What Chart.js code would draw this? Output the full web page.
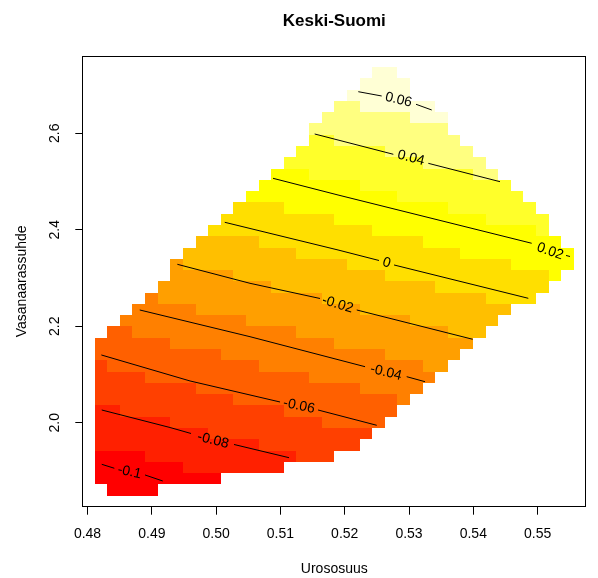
<!DOCTYPE html>
<html>
<head>
<meta charset="utf-8">
<title>Keski-Suomi</title>
<script src="https://cdn.jsdelivr.net/npm/chart.js@4.4.1/dist/chart.umd.min.js"></script>
<style>
  html, body { margin: 0; padding: 0; background: #fff; }
  #wrap { width: 598px; height: 578px; }
</style>
</head>
<body>
<div id="wrap"><canvas id="surface" width="598" height="578"></canvas></div>
<script>
// interpolation grid: 38 x 38 cells, first and last cell centre on each axis
const gridX = [0.48209, 0.55467];
const gridY = [1.8604, 2.7257];
const nCols = 38;
const nRows = 38;

// heat.colors(12)
const heatColors = ['#FF0000', '#FF2000', '#FF4000', '#FF6000', '#FF8000', '#FF9F00',
                    '#FFBF00', '#FFDF00', '#FFFF00', '#FFFF2A', '#FFFF80', '#FFFFD5'];

// per grid row (bottom to top): first filled column, then runs of [colour band, cell count]
const rowStart = [1, 0, 0, 0, 0, 0, 0, 0, 0, 0, 0, 0, 0, 0, 1, 2, 3, 4, 5, 6,
                  6, 7, 8, 9, 10, 11, 12, 13, 14, 15, 16, 17, 17, 18, 19, 20, 21, 22];
const rowRuns = [
  [0, 4],
  [0, 10],
  [0, 7, 1, 8],
  [0, 4, 1, 12, 2, 3],
  [1, 13, 2, 8],
  [1, 9, 2, 13],
  [1, 6, 2, 12, 3, 5],
  [1, 2, 2, 13, 3, 9],
  [2, 11, 3, 13, 4, 1],
  [2, 8, 3, 13, 4, 5],
  [2, 4, 3, 13, 4, 10],
  [2, 1, 3, 12, 4, 13, 5, 2],
  [3, 10, 4, 13, 5, 6],
  [3, 6, 4, 13, 5, 11],
  [3, 2, 4, 13, 5, 12, 6, 3],
  [4, 10, 5, 13, 6, 7],
  [4, 5, 5, 13, 6, 12],
  [4, 1, 5, 13, 6, 13, 7, 4],
  [5, 9, 6, 13, 7, 9],
  [5, 5, 6, 12, 7, 13, 8, 1],
  [5, 1, 6, 13, 7, 13, 8, 5],
  [6, 9, 7, 13, 8, 9],
  [6, 5, 7, 13, 8, 11],
  [7, 13, 8, 13, 9, 1],
  [7, 9, 8, 12, 9, 5],
  [7, 4, 8, 13, 9, 7],
  [8, 12, 9, 10],
  [8, 8, 9, 12],
  [8, 3, 9, 13, 10, 2],
  [9, 11, 10, 5],
  [9, 7, 10, 7],
  [9, 2, 10, 10],
  [10, 11],
  [10, 7, 11, 3],
  [10, 2, 11, 6],
  [11, 5],
  [11, 4],
  [11, 2]
];

// contour lines; null marks the break left for the label
const contourLevels = [-0.1, -0.08, -0.06, -0.04, -0.02, 0, 0.02, 0.04, 0.06];
const contourX = [
  [0.48221, 0.48417, null, 0.48894, 0.49170],
  [0.48221, 0.49283, 0.49610, null, 0.50278, 0.51134],
  [0.48215, 0.49594, 0.50994, null, 0.51585, 0.52498],
  [0.48812, 0.50527, 0.52316, null, 0.52964, 0.53249],
  [0.49397, 0.50527, 0.51616, null, 0.52187, 0.53991],
  [0.50134, 0.51896, 0.52533, null, 0.52767, 0.54855],
  [0.50885, 0.51896, 0.54908, null, 0.55442, 0.55504],
  [0.51533, 0.52756, null, 0.53300, 0.54415],
  [0.52211, 0.52575, null, 0.53109, 0.53353]
];
const contourY = [
  [1.9137, 1.9055, null, 1.8916, 1.8791],
  [2.0263, 1.9900, 1.9776, null, 1.9548, 1.9274],
  [2.1404, 2.0865, 2.0429, null, 2.0263, 1.9946],
  [2.2337, 2.1783, 2.1161, null, 2.0954, 2.0850],
  [2.3284, 2.2890, 2.2575, null, 2.2337, 2.1729],
  [2.4155, 2.3581, 2.3363, null, 2.3270, 2.2579],
  [2.5067, 2.4721, 2.3720, null, 2.3467, 2.3446],
  [2.5986, 2.5565, null, 2.5378, 2.4997],
  [2.6863, 2.6774, null, 2.6602, 2.6484]
];
const labelX = [0.48653, 0.49952, 0.51289, 0.52642, 0.51888, 0.52650, 0.55193, 0.53031, 0.52837];
const labelY = [1.8978, 1.9631, 2.0346, 2.1041, 2.2451, 2.3311, 2.3550, 2.5488, 2.6691];
const labelText = ['-0.1', '-0.08', '-0.06', '-0.04', '-0.02', '0', '0.02', '0.04', '0.06'];

const xTicks = [0.48, 0.49, 0.50, 0.51, 0.52, 0.53, 0.54, 0.55];
const xTickLabels = ['0.48', '0.49', '0.50', '0.51', '0.52', '0.53', '0.54', '0.55'];
const yTicks = [2.0, 2.2, 2.4, 2.6];
const yTickLabels = ['2.0', '2.2', '2.4', '2.6'];

const FONT = '"Liberation Sans", Arial, Helvetica, sans-serif';
const dx = (gridX[1] - gridX[0]) / (nCols - 1);
const dy = (gridY[1] - gridY[0]) / (nRows - 1);
// plot range padded by 4% as in base graphics
const xPad = 0.04 * (gridX[1] - gridX[0]);
const yPad = 0.04 * (gridY[1] - gridY[0]);

const heatPlugin = {
  id: 'heat',
  beforeDatasetsDraw(chart) {
    const { ctx, scales: { x, y } } = chart;
    ctx.save();
    rowRuns.forEach((runs, r) => {
      const yc = gridY[0] + r * dy;
      const top = Math.round(y.getPixelForValue(yc + dy / 2));
      const bottom = Math.round(y.getPixelForValue(yc - dy / 2));
      let c = rowStart[r];
      for (let k = 0; k < runs.length; k += 2) {
        ctx.fillStyle = heatColors[runs[k]];
        for (let n = 0; n < runs[k + 1]; n++, c++) {
          const xc = gridX[0] + c * dx;
          const left = Math.round(x.getPixelForValue(xc - dx / 2));
          const right = Math.round(x.getPixelForValue(xc + dx / 2));
          ctx.fillRect(left, top, right - left, bottom - top);
        }
      }
    });
    ctx.restore();
  }
};

const contourLabels = {
  id: 'contourLabels',
  afterDatasetsDraw(chart) {
    const { ctx, scales: { x, y } } = chart;
    ctx.save();
    ctx.font = '14px ' + FONT;
    ctx.fillStyle = '#000';
    ctx.textAlign = 'center';
    ctx.textBaseline = 'middle';
    contourLevels.forEach((lev, i) => {
      const xs = contourX[i], ys = contourY[i];
      const g = xs.indexOf(null);
      const ax = x.getPixelForValue(xs[g - 1]), ay = y.getPixelForValue(ys[g - 1]);
      const bx = x.getPixelForValue(xs[g + 1]), by = y.getPixelForValue(ys[g + 1]);
      const ang = Math.atan2(by - ay, bx - ax);
      ctx.save();
      ctx.translate(x.getPixelForValue(labelX[i]), y.getPixelForValue(labelY[i]));
      ctx.rotate(ang);
      ctx.fillText(labelText[i], 0, 0);
      ctx.restore();
    });
    ctx.restore();
  }
};

const frame = {
  id: 'frame',
  afterDraw(chart) {
    const { ctx, chartArea: a } = chart;
    ctx.save();
    ctx.strokeStyle = '#000';
    ctx.lineWidth = 1;
    const l = Math.round(a.left) + 0.5, t = Math.round(a.top) + 0.5;
    const r = Math.round(a.right) - 0.5, b = Math.round(a.bottom) - 0.5;
    ctx.strokeRect(l, t, r - l, b - t);
    ctx.restore();
  }
};

const datasets = contourLevels.map((lev, i) => ({
  label: labelText[i],
  data: contourX[i].map((v, k) => v === null ? { x: NaN, y: NaN } : { x: v, y: contourY[i][k] }),
  showLine: true,
  spanGaps: false,
  borderColor: '#000',
  borderWidth: 1,
  pointRadius: 0,
  tension: 0
}));

new Chart(document.getElementById('surface'), {
  type: 'scatter',
  data: { datasets },
  plugins: [heatPlugin, contourLabels, frame],
  options: {
    responsive: false,
    animation: false,
    devicePixelRatio: 1,
    events: [],
    layout: { padding: { left: 0, right: 11.7, top: 0, bottom: 0 } },
    plugins: {
      legend: { display: false },
      tooltip: { enabled: false },
      title: {
        display: true,
        text: 'Keski-Suomi',
        fullSize: false,
        color: '#000',
        font: { family: FONT, size: 17, weight: 'bold', lineHeight: 1.2 },
        padding: { top: 11.5, bottom: 24.1 }
      }
    },
    scales: {
      x: {
        type: 'linear',
        position: 'bottom',
        min: gridX[0] - xPad,
        max: gridX[1] + xPad,
        afterBuildTicks: s => { s.ticks = xTicks.map(v => ({ value: v })); },
        afterFit: s => { s.height = 71.3; },
        ticks: {
          color: '#000',
          font: { family: FONT, size: 14 },
          padding: 11.5,
          maxRotation: 0,
          autoSkip: false,
          callback: (v, i) => xTickLabels[i]
        },
        grid: { drawOnChartArea: false, drawTicks: true, tickLength: 8, tickColor: '#000', tickWidth: 1 },
        border: { display: false },
        title: {
          display: true,
          text: 'Urososuus',
          color: '#000',
          font: { family: FONT, size: 14 },
          padding: { top: 0, bottom: 0.5 }
        }
      },
      y: {
        type: 'linear',
        position: 'left',
        min: gridY[0] - yPad,
        max: gridY[1] + yPad,
        afterBuildTicks: s => { s.ticks = yTicks.map(v => ({ value: v })); },
        afterFit: s => { s.width = 82.3; },
        ticks: {
          color: '#000',
          font: { family: FONT, size: 14 },
          padding: 10.4,
          minRotation: 90,
          maxRotation: 90,
          crossAlign: 'center',
          autoSkip: false,
          callback: (v, i) => yTickLabels[i]
        },
        grid: { drawOnChartArea: false, drawTicks: true, tickLength: 7, tickColor: '#000', tickWidth: 1 },
        border: { display: false },
        title: {
          display: true,
          text: 'Vasanaarassuhde',
          color: '#000',
          font: { family: FONT, size: 14 },
          padding: { top: 13.4, bottom: 0 }
        }
      }
    }
  }
});
</script>
</body>
</html>
